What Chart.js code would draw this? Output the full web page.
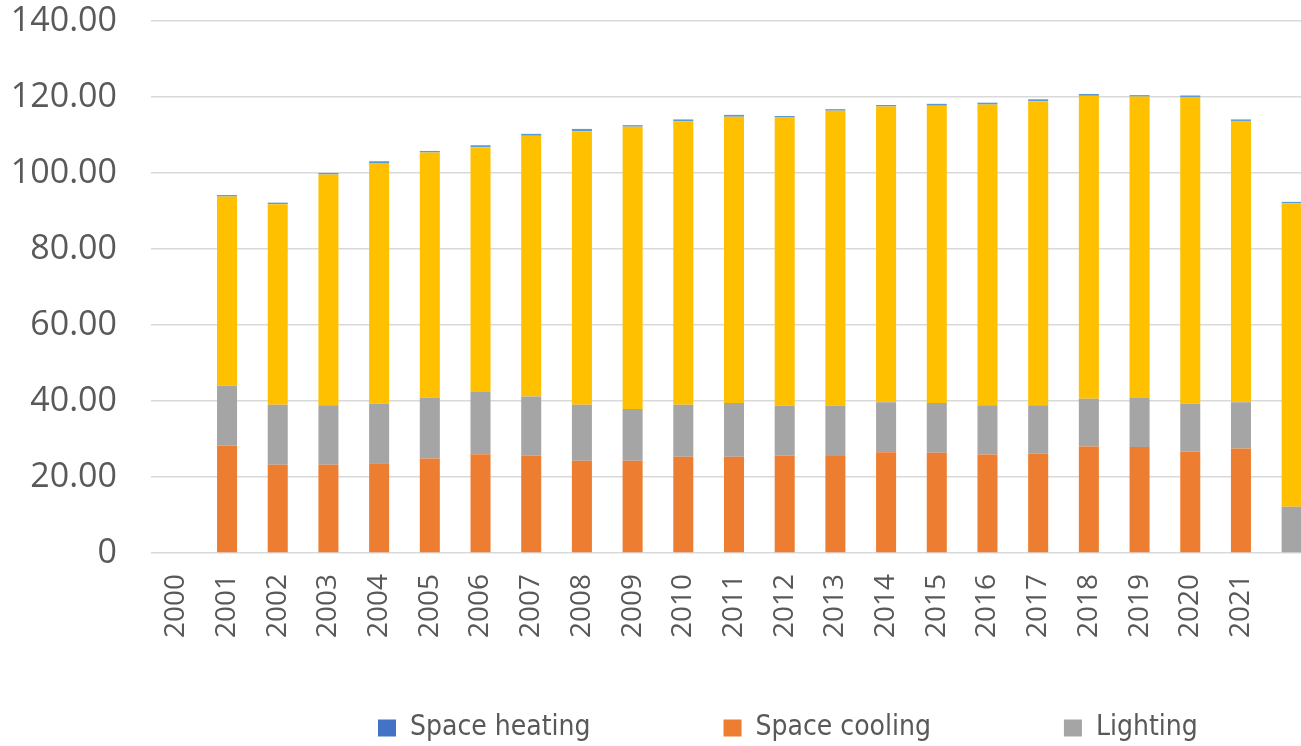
<!DOCTYPE html>
<html>
<head>
<meta charset="utf-8">
<script src="https://cdn.jsdelivr.net/npm/chart.js@4.4.1/dist/chart.umd.min.js"></script>
<style>
  html, body { margin: 0; padding: 0; background: #ffffff; overflow: hidden; }
  #wrap { width: 1301px; height: 746px; overflow: hidden; position: relative; }
  canvas { display: block; }
</style>
</head>
<body>
<div id="wrap"><canvas id="c" width="1317" height="746"></canvas></div>
<script>
// ---- data ----
const years = ["2000","2001","2002","2003","2004","2005","2006","2007","2008","2009","2010",
               "2011","2012","2013","2014","2015","2016","2017","2018","2019","2020","2021",""];
const spaceHeating = [null,0,0,0,0,0,0,0,0,0,0,0,0,0,0,0,0,0,0,0,0,0,0];
const spaceCooling = [null,28.3,23.2,23.2,23.6,24.9,26.0,25.6,24.3,24.3,25.3,25.3,25.6,25.5,26.5,26.4,25.9,26.1,28.0,27.9,26.7,27.5,0];
const lighting     = [null,15.7,15.8,15.7,15.7,16.0,16.4,15.6,14.7,13.6,13.7,14.2,13.2,13.3,13.2,13.1,13.0,12.8,12.6,12.9,12.6,12.2,12.2];
const series4      = [null,49.8,52.8,60.7,63.3,64.5,64.4,68.6,72.0,74.3,74.6,75.3,75.8,77.6,77.8,78.2,79.1,80.0,79.7,79.3,80.7,74.0,79.8];
const series5      = [null,0.4,0.4,0.4,0.5,0.4,0.5,0.5,0.6,0.4,0.5,0.5,0.4,0.4,0.4,0.5,0.5,0.5,0.5,0.4,0.4,0.4,0.4];
const yTicks = [0,20,40,60,80,100,120,140];

const textColor = '#595959';
const axisFont = '"Open Sans", "Noto Sans", sans-serif';
const legendFont = '"Liberation Sans Narrow", "DejaVu Sans Condensed", "Open Sans", sans-serif';
const LEGEND_PAD = 133;
const LEGEND_FONT = 28;

const legendPlacer = {
  id: 'legendPlacer',
  afterLayout(chart) {
    const lg = chart.legend;
    if (!lg) return;
    lg.left = 378 - LEGEND_PAD;
    lg.right = lg.left + 1600;
    lg.top = 728 - LEGEND_PAD - LEGEND_FONT / 2;
    lg.bottom = 746;
    lg.height = lg.bottom - lg.top;
    lg.width = lg.right - lg.left;
  }
};

new Chart(document.getElementById('c'), {
  type: 'bar',
  data: {
    labels: years,
    datasets: [
      { label: 'Space heating', data: spaceHeating, backgroundColor: '#4472C4' },
      { label: 'Space cooling', data: spaceCooling, backgroundColor: '#ED7D31' },
      { label: 'Lighting', data: lighting, backgroundColor: '#A5A5A5' },
      { label: 'Series 4', data: series4, backgroundColor: '#FFC000' },
      { label: 'Series 5', data: series5, backgroundColor: '#5B9BD5' }
    ]
  },
  options: {
    responsive: false,
    animation: false,
    devicePixelRatio: 1,
    layout: { padding: { top: 21, left: 0, right: 0, bottom: 0 } },
    datasets: { bar: { categoryPercentage: 1.0, barPercentage: 0.395, borderWidth: 0 } },
    scales: {
      x: {
        stacked: true,
        grid: { display: false, drawTicks: true, tickLength: 21 },
        border: { display: false },
        ticks: {
          autoSkip: false, minRotation: 90, maxRotation: 90, padding: 0,
          color: textColor, font: { family: axisFont, size: 28, lineHeight: 0.8 }
        },
        afterFit(scale) { scale.height = 192; }
      },
      y: {
        stacked: true,
        min: 0, max: 140,
        grid: { color: '#d9d9d9', lineWidth: 1.5, drawTicks: true, tickLength: 34, tickColor: 'rgba(0,0,0,0)' },
        border: { display: false },
        afterBuildTicks(scale) { scale.ticks = yTicks.map(v => ({ value: v })); },
        ticks: {
          padding: 0, color: textColor, font: { family: axisFont, size: 34 },
          callback: v => v === 0 ? '0' : Number(v).toFixed(2)
        },
        afterFit(scale) { scale.width = 151; }
      }
    },
    plugins: {
      tooltip: { enabled: false },
      legend: {
        position: 'bottom',
        align: 'start',
        maxHeight: 1,
        labels: {
          filter: item => item.datasetIndex < 3,
          boxWidth: 18, boxHeight: 17, padding: LEGEND_PAD,
          color: textColor, font: { family: legendFont, size: LEGEND_FONT }
        }
      }
    }
  },
  plugins: [legendPlacer]
});
</script>
</body>
</html>
